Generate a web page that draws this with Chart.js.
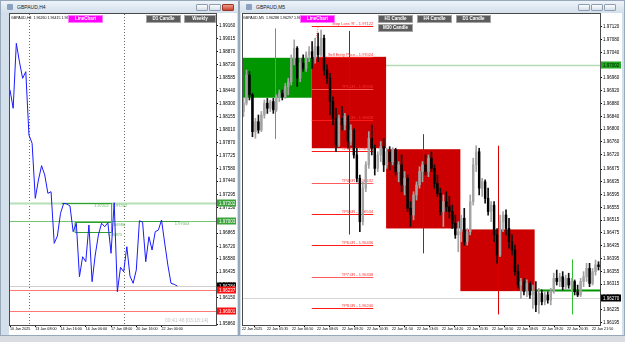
<!DOCTYPE html>
<html>
<head>
<meta charset="utf-8">
<title>GBPAUD H4 / M5</title>
<script src="https://cdn.jsdelivr.net/npm/chart.js@4.4.1/dist/chart.umd.min.js"></script>
<style>
  html, body { margin: 0; padding: 0; }
  body { width: 625px; height: 342px; position: relative; overflow: hidden;
         background: #d9dce1; font-family: "Liberation Sans", Arial, sans-serif; }
  .win { position: absolute; top: 0; height: 336px; box-sizing: border-box;
         background: #d4dfec; border: 1px solid #98a8bb; }
  .bar { position: absolute; left: 0; right: 0; top: 0; height: 12px;
         background: linear-gradient(#eef3f9, #d3dfec); }
  .bar span { position: absolute; left: 16px; top: 3px; font-size: 5px; color: #222; }
  .icon { position: absolute; left: 6px; top: 3px; width: 6px; height: 6px; background: #8aa2c0; border-radius: 1px; }
  .ctl { position: absolute; top: 3px; width: 12px; height: 7px; box-sizing: border-box;
         border: 1px solid #8e9db0; background: linear-gradient(#fbfcfe, #d6dfea); border-radius: 1px; }
  .ctl.x { background: linear-gradient(#f29a8a, #c9452f); border-color: #983727; }
  canvas { position: absolute; background: #fff; }
  .btn { position: absolute; height: 8px; font-size: 4.5px; font-weight: bold; line-height: 6px;
         text-align: center; color: #fff; box-sizing: border-box; background: #5d5d5d;
         border: 1px solid #a5a5a5; }
  .btn.lc { background: #ff00ff; border-color: #ff7aff; }
  .info { position: absolute; font-size: 3.6px; color: #000; white-space: nowrap; }
  .timer { position: absolute; font-size: 5px; color: #c4c4c4; white-space: nowrap; }
</style>
</head>
<body>

<div class="win" style="left:0;width:239px">
  <div class="bar"><div class="icon"></div><span>GBPAUD,H4</span>
    <div class="ctl" style="left:195px"></div><div class="ctl" style="left:208px"></div><div class="ctl x" style="left:221px"></div>
  </div>
</div>
<div class="win" style="left:239px;width:386px">
  <div class="bar"><div class="icon"></div><span>GBPAUD,M5</span>
    <div class="ctl" style="left:338px"></div><div class="ctl" style="left:351px"></div><div class="ctl" style="left:364px"></div>
  </div>
</div>

<canvas id="h4" width="228" height="322" style="left:9px;top:13px"></canvas>
<canvas id="m5" width="381" height="322" style="left:241px;top:13px"></canvas>

<div class="info" style="left:11px;top:16px">GBPAUD,H4&nbsp; 1.96260 1.96415 1.96260 1.96281</div>
<div class="btn lc" style="left:68px;top:15px;width:35px">LineChart</div>
<div class="btn" style="left:146px;top:15px;width:35px">D1 Candle</div>
<div class="btn" style="left:184px;top:15px;width:32px">Weekly</div>
<div class="timer" style="left:165px;top:317px">00:41:46 [03:18:14]</div>

<div class="info" style="left:243px;top:16px">GBPAUD,M5&nbsp; 1.96288 1.96297 1.96280 1.96281</div>
<div class="btn lc" style="left:300px;top:15px;width:35px">LineChart</div>
<div class="btn" style="left:378px;top:15px;width:35px">H1 Candle</div>
<div class="btn" style="left:417px;top:15px;width:35px">H4 Candle</div>
<div class="btn" style="left:456px;top:15px;width:35px">D1 Candle</div>
<div class="btn" style="left:378px;top:24px;width:35px">M30 Candle</div>

<script>
// ---------- GBPAUD,H4 : close prices, 10 Jan - 22 Jan 2025 ----------
const h4Close = [
  1.98449, 1.98246, 1.98965, 1.98759, 1.98578, 1.98651, 1.97951, 1.97859, 1.97251, 1.97453,
  1.97612, 1.97509, 1.97306, 1.97324, 1.96753, 1.96834, 1.97085, 1.97196, 1.97188, 1.97166,
  1.96882, 1.96975, 1.96384, 1.96605, 1.96550, 1.96956, 1.96329, 1.96624, 1.96845, 1.96975,
  1.96937, 1.96981, 1.96643, 1.97202, 1.96218, 1.96488, 1.96439, 1.96716, 1.96392, 1.96311,
  1.96458, 1.97003, 1.96986, 1.96550, 1.96826, 1.96679, 1.96882, 1.96900, 1.97011, 1.96757,
  1.96513, 1.96311, 1.96300, 1.96281
];
const h4TickIdx = [0, 8, 16, 24, 32, 40, 48];
const h4TickLabels = ['10 Jan 2025', '13 Jan 08:00', '14 Jan 16:00', '16 Jan 00:00',
                      '17 Jan 08:00', '20 Jan 16:00', '22 Jan 00:00'];
const h4WeekStarts = [6, 36];
const h4PriceTicks = [1.99160, 1.99015, 1.98870, 1.98730, 1.98585, 1.98440, 1.98300, 1.98155,
  1.98010, 1.97870, 1.97725, 1.97580, 1.97440, 1.97295, 1.97150, 1.97005, 1.96865, 1.96720,
  1.96580, 1.96435, 1.96290, 1.96150, 1.96005, 1.95860];
// horizontal levels: two green zones, bid, two red stops
const h4Levels = [1.97202, 1.97003, 1.96284, 1.96237, 1.96001];
// small green range objects drawn by the indicator
const h4RangeTop = [1.97202, 1.96986, 1.97003];
const h4RangeBottom = [1.97003, 1.96875, 1.97003];
const h4RangeFrom = [16.4, 20.6, 41.2];
const h4RangeTo = [32.2, 32.2, 53.8];

// ---------- GBPAUD,M5 : candles, 22 Jan 2025 ----------
const m5Open = [
  1.96855, 1.96881, 1.96969, 1.96907, 1.96792, 1.96823, 1.96797, 1.96844, 1.96881, 1.96865,
  1.96886, 1.96860, 1.96901, 1.96912, 1.96901, 1.96933, 1.96948, 1.97021, 1.97053, 1.96959,
  1.97006, 1.96990, 1.97032, 1.97042, 1.97021, 1.97058, 1.97032, 1.97084, 1.96985, 1.96959,
  1.96886, 1.96834, 1.96750, 1.96834, 1.96813, 1.96839, 1.96761, 1.96797, 1.96719, 1.96646,
  1.96510, 1.96615, 1.96688, 1.96771, 1.96740, 1.96677, 1.96719, 1.96745, 1.96688, 1.96729,
  1.96698, 1.96735, 1.96667, 1.96688, 1.96625, 1.96646, 1.96552, 1.96531, 1.96594, 1.96625,
  1.96667, 1.96688, 1.96667, 1.96709, 1.96677, 1.96630, 1.96599, 1.96542, 1.96573, 1.96557,
  1.96542, 1.96505, 1.96469, 1.96479, 1.96521, 1.96448, 1.96479, 1.96573, 1.96688, 1.96729,
  1.96615, 1.96635, 1.96583, 1.96542, 1.96562, 1.96469, 1.96406, 1.96510, 1.96531, 1.96489,
  1.96448, 1.96422, 1.96354, 1.96312, 1.96323, 1.96291, 1.96317, 1.96281, 1.96291, 1.96250,
  1.96286, 1.96260, 1.96281, 1.96265, 1.96291, 1.96333, 1.96323, 1.96338, 1.96307, 1.96333,
  1.96312, 1.96323, 1.96291, 1.96281, 1.96323, 1.96338, 1.96364, 1.96317, 1.96354, 1.96375
];
const m5High = [
  1.96896, 1.96985, 1.96980, 1.96912, 1.96834, 1.96844, 1.96855, 1.96891, 1.96896, 1.96891,
  1.96896, 1.96907, 1.96922, 1.96922, 1.96943, 1.96959, 1.97032, 1.97079, 1.97058, 1.97021,
  1.97032, 1.97042, 1.97058, 1.97074, 1.97084, 1.97100, 1.97110, 1.97094, 1.97001, 1.96974,
  1.96901, 1.96865, 1.96844, 1.96870, 1.96849, 1.96844, 1.96813, 1.96802, 1.96740, 1.96656,
  1.96635, 1.96698, 1.96792, 1.96813, 1.96750, 1.96729, 1.96761, 1.96771, 1.96740, 1.96745,
  1.96742, 1.96740, 1.96698, 1.96719, 1.96667, 1.96656, 1.96573, 1.96604, 1.96635, 1.96682,
  1.96698, 1.96719, 1.96719, 1.96729, 1.96688, 1.96656, 1.96615, 1.96594, 1.96604, 1.96589,
  1.96562, 1.96531, 1.96510, 1.96531, 1.96552, 1.96489, 1.96594, 1.96709, 1.96748, 1.96740,
  1.96646, 1.96641, 1.96615, 1.96573, 1.96573, 1.96489, 1.96531, 1.96542, 1.96547, 1.96521,
  1.96469, 1.96437, 1.96375, 1.96333, 1.96333, 1.96328, 1.96323, 1.96312, 1.96323, 1.96302,
  1.96297, 1.96291, 1.96291, 1.96302, 1.96349, 1.96359, 1.96349, 1.96354, 1.96343, 1.96349,
  1.96333, 1.96328, 1.96312, 1.96333, 1.96354, 1.96380, 1.96380, 1.96364, 1.96390, 1.96385
];
const m5Low = [
  1.96839, 1.96875, 1.96891, 1.96776, 1.96771, 1.96787, 1.96792, 1.96834, 1.96849, 1.96855,
  1.96849, 1.96855, 1.96886, 1.96891, 1.96896, 1.96907, 1.96938, 1.97001, 1.96933, 1.96948,
  1.96980, 1.96980, 1.97011, 1.96990, 1.97006, 1.97011, 1.97027, 1.96969, 1.96943, 1.96844,
  1.96813, 1.96729, 1.96745, 1.96797, 1.96797, 1.96740, 1.96750, 1.96709, 1.96635, 1.96479,
  1.96500, 1.96604, 1.96677, 1.96719, 1.96656, 1.96667, 1.96698, 1.96667, 1.96677, 1.96672,
  1.96688, 1.96656, 1.96635, 1.96604, 1.96594, 1.96542, 1.96495, 1.96516, 1.96578, 1.96615,
  1.96635, 1.96656, 1.96651, 1.96667, 1.96615, 1.96589, 1.96531, 1.96495, 1.96542, 1.96521,
  1.96489, 1.96458, 1.96416, 1.96448, 1.96437, 1.96437, 1.96469, 1.96562, 1.96667, 1.96594,
  1.96589, 1.96568, 1.96531, 1.96510, 1.96448, 1.96380, 1.96401, 1.96479, 1.96469, 1.96427,
  1.96406, 1.96343, 1.96302, 1.96270, 1.96281, 1.96276, 1.96270, 1.96239, 1.96229, 1.96223,
  1.96250, 1.96250, 1.96255, 1.96250, 1.96286, 1.96312, 1.96307, 1.96297, 1.96297, 1.96302,
  1.96291, 1.96281, 1.96276, 1.96276, 1.96307, 1.96323, 1.96307, 1.96312, 1.96343, 1.96359
];
const m5Close = [
  1.96881, 1.96969, 1.96907, 1.96792, 1.96823, 1.96797, 1.96844, 1.96881, 1.96865, 1.96886,
  1.96860, 1.96901, 1.96912, 1.96901, 1.96933, 1.96948, 1.97021, 1.97053, 1.96959, 1.97006,
  1.96990, 1.97032, 1.97042, 1.97021, 1.97058, 1.97032, 1.97084, 1.96985, 1.96959, 1.96886,
  1.96834, 1.96750, 1.96834, 1.96813, 1.96839, 1.96761, 1.96797, 1.96719, 1.96646, 1.96510,
  1.96615, 1.96688, 1.96771, 1.96740, 1.96677, 1.96719, 1.96745, 1.96688, 1.96729, 1.96698,
  1.96735, 1.96667, 1.96688, 1.96625, 1.96646, 1.96552, 1.96531, 1.96594, 1.96625, 1.96667,
  1.96688, 1.96667, 1.96709, 1.96677, 1.96630, 1.96599, 1.96542, 1.96573, 1.96557, 1.96542,
  1.96505, 1.96469, 1.96479, 1.96521, 1.96448, 1.96479, 1.96573, 1.96688, 1.96729, 1.96615,
  1.96635, 1.96583, 1.96542, 1.96562, 1.96469, 1.96406, 1.96510, 1.96531, 1.96489, 1.96448,
  1.96422, 1.96354, 1.96312, 1.96323, 1.96291, 1.96317, 1.96281, 1.96291, 1.96250, 1.96286,
  1.96260, 1.96281, 1.96265, 1.96291, 1.96333, 1.96323, 1.96338, 1.96307, 1.96333, 1.96312,
  1.96323, 1.96291, 1.96281, 1.96323, 1.96338, 1.96364, 1.96317, 1.96354, 1.96375, 1.96370
];
const m5TimeLabels = ['22 Jan 2025', '22 Jan 05:35', '22 Jan 06:50', '22 Jan 08:05', '22 Jan 09:20',
  '22 Jan 10:35', '22 Jan 11:50', '22 Jan 13:05', '22 Jan 14:20', '22 Jan 15:35', '22 Jan 16:50',
  '22 Jan 18:05', '22 Jan 19:20', '22 Jan 20:35', '22 Jan 21:50'];
const m5PriceTicks = [1.97120, 1.97080, 1.97040, 1.97000, 1.96960, 1.96920, 1.96880, 1.96840,
  1.96800, 1.96760, 1.96720, 1.96675, 1.96635, 1.96595, 1.96555, 1.96515, 1.96475, 1.96435,
  1.96395, 1.96355, 1.96315, 1.96275, 1.96235, 1.96195];
// higher timeframe candles laid over the M5 bars (start = first M5 bar they cover)
const htfStart = [-2.0, 22.9, 47.8, 72.7, 97.6];
const htfOpen  = [1.96898, 1.97026, 1.96737, 1.96486, 1.96292];
const htfHigh  = [1.97115, 1.97107, 1.96784, 1.96748, 1.96392];
const htfLow   = [1.96769, 1.96470, 1.96411, 1.96220, 1.96220];
const htfClose = [1.97023, 1.96740, 1.96489, 1.96293, 1.96298];
// sell trade: stop, entry and R-multiple targets
const tradeNames = ["Stop Loss 'R' - 1.97122", 'Sell Entry Price - 1.97024', 'TP1.0R - 1.96926',
  'TP2.0R - 1.96828', 'TP3.0R - 1.96730', 'TP4.0R - 1.96632', 'TP5.0R - 1.96534',
  'TP6.0R - 1.96436', 'TP7.0R - 1.96338', 'TP8.0R - 1.96240'];
const tradeLevels = [1.97122, 1.97024, 1.96926, 1.96828, 1.96730, 1.96632, 1.96534, 1.96436, 1.96338, 1.96240];
const tradeFrom = 22.9, tradeTo = 43.5;
const m5Levels = [1.97002, 1.96270]; // green level, bid

const FAMILY = '"Liberation Sans", Arial, sans-serif';
const FONT = '4.5px ' + FAMILY;
const tickFont = { size: 4.5, family: FAMILY };
const timeFont = { size: 3.7, family: FAMILY };

function hline(ctx, a, y, color, width, dash) {
  ctx.strokeStyle = color; ctx.lineWidth = width; ctx.setLineDash(dash || []);
  ctx.beginPath(); ctx.moveTo(a.left, y); ctx.lineTo(a.right, y); ctx.stroke();
  ctx.setLineDash([]);
}
function tag(ctx, scale, price, bg, fg) {
  const yy = Math.round(scale.getPixelForValue(price));
  ctx.fillStyle = bg;
  ctx.fillRect(scale.left + 1, yy - 3.5, scale.width - 2, 7);
  ctx.fillStyle = fg; ctx.font = FONT; ctx.textAlign = 'left'; ctx.textBaseline = 'middle';
  ctx.fillText(price.toFixed(5), scale.left + 3, yy + 0.5);
}
function frame(ctx, a) {
  ctx.strokeStyle = '#4a4a4a'; ctx.lineWidth = 1;
  ctx.strokeRect(a.left + 0.5, a.top - 0.5, a.right - a.left, a.bottom - a.top + 1);
}
function axisX(min, max, ticks, labels) {
  return {
    type: 'linear', min: min, max: max, offset: false,
    grid: { drawOnChartArea: false, tickLength: 2, color: '#000' },
    border: { display: false },
    ticks: { font: timeFont, color: '#000', padding: 0, maxRotation: 0, autoSkip: false,
             align: 'start', callback: (v, i) => labels[i] },
    afterBuildTicks: s => { s.ticks = ticks.map(v => ({ value: v })); },
    afterFit: s => { s.height = 10; s.paddingLeft = 0; s.paddingRight = 0; }
  };
}
function axisY(min, max, ticks, width) {
  return {
    position: 'right', min: min, max: max,
    grid: { drawOnChartArea: false, tickLength: 2, color: '#000' },
    border: { display: false },
    ticks: { font: tickFont, color: '#000', padding: 1, callback: v => v.toFixed(5) },
    afterBuildTicks: s => { s.ticks = ticks.map(v => ({ value: v })); },
    afterFit: s => { s.width = width; s.paddingTop = 0; s.paddingBottom = 0; }
  };
}

// ---------- left window: H4 line chart ----------
const h4Deco = {
  id: 'h4Deco',
  beforeDatasetsDraw(chart) {
    const { ctx, chartArea: a, scales: { x, y } } = chart;
    ctx.save();
    ctx.beginPath(); ctx.rect(a.left, a.top, a.width, a.height); ctx.clip();
    // week separators
    h4WeekStarts.forEach(i => {
      const px = Math.round(x.getPixelForValue(i)) + 0.5;
      ctx.strokeStyle = '#6c6c6c'; ctx.lineWidth = 1; ctx.setLineDash([1, 2]);
      ctx.beginPath(); ctx.moveTo(px, a.top); ctx.lineTo(px, a.bottom); ctx.stroke();
    });
    ctx.setLineDash([]);
    const styles = [['#b6e0b6', 2], ['#74c474', 1], ['#cfcfcf', 1], ['#ff7878', 1], ['#ff7878', 1]];
    h4Levels.forEach((p, k) => hline(ctx, a, Math.round(y.getPixelForValue(p)) + 0.5, styles[k][0], styles[k][1]));
    // green range objects
    ctx.strokeStyle = '#2f9f2f'; ctx.lineWidth = 1;
    h4RangeTop.forEach((top, k) => {
      const x0 = x.getPixelForValue(h4RangeFrom[k]), x1 = x.getPixelForValue(h4RangeTo[k]);
      const y0 = Math.round(y.getPixelForValue(top)) + 0.5, y1 = Math.round(y.getPixelForValue(h4RangeBottom[k])) + 0.5;
      ctx.beginPath();
      if (y0 === y1) { ctx.moveTo(x0, y0); ctx.lineTo(x1, y0); }
      else if (k === 0) { ctx.moveTo(x0, y0); ctx.lineTo(x1, y0); ctx.lineTo(x1, y1); }
      else { ctx.rect(x0, y0, x1 - x0, y1 - y0); }
      ctx.stroke();
    });
    ctx.fillStyle = '#5fb85f'; ctx.font = '4px ' + FAMILY; ctx.textBaseline = 'top';
    const px = v => x.getPixelForValue(v), py = v => y.getPixelForValue(v);
    ctx.textAlign = 'right'; ctx.fillText(h4RangeTop[0].toFixed(5), px(h4RangeTo[0]) - 3, py(h4RangeTop[0]) + 1);
    ctx.textAlign = 'left';
    ctx.fillText(h4RangeTop[0].toFixed(5), px(h4RangeTo[0]) + 1, py(h4RangeTop[0]) + 1);
    ctx.fillText(h4RangeTop[1].toFixed(5), px(h4RangeTo[1]) - 1, py(h4RangeTop[1]) + 1);
    ctx.fillText(h4RangeBottom[1].toFixed(5), px(h4RangeTo[1]) - 4, py(h4RangeBottom[1]) + 1);
    ctx.fillText(h4RangeTop[2].toFixed(5), px(h4RangeTo[2]) - 5, py(h4RangeTop[2]) + 1);
    ctx.restore();
  },
  afterDraw(chart) {
    const { ctx, chartArea: a, scales: { y } } = chart;
    ctx.save();
    frame(ctx, a);
    tag(ctx, y, h4Levels[0], '#3aa63a', '#ffffff');
    tag(ctx, y, h4Levels[1], '#3aa63a', '#ffffff');
    tag(ctx, y, h4Levels[2], '#000000', '#ffffff');
    tag(ctx, y, h4Levels[3], '#ff1010', '#ffffff');
    tag(ctx, y, h4Levels[4], '#ff1010', '#ffffff');
    ctx.restore();
  }
};

new Chart(document.getElementById('h4'), {
  type: 'line',
  data: { datasets: [{ data: h4Close.map((v, i) => ({ x: i, y: v })), borderColor: '#1a1aff',
                       borderWidth: 1, pointRadius: 0, tension: 0 }] },
  options: {
    responsive: false, animation: false, events: [],
    layout: { padding: { top: 1, left: 0, right: 0, bottom: 0 } },
    plugins: { legend: { display: false }, tooltip: { enabled: false } },
    scales: {
      x: axisX(-0.32, 65.25, h4TickIdx, h4TickLabels),
      y: axisY(1.95850, 1.99289, h4PriceTicks, 21)
    }
  },
  plugins: [h4Deco]
});

// ---------- right window: M5 candles with trade overlay ----------
const m5Deco = {
  id: 'm5Deco',
  beforeDatasetsDraw(chart) {
    const { ctx, chartArea: a, scales: { x, y } } = chart;
    const px = v => x.getPixelForValue(v), py = v => y.getPixelForValue(v);
    ctx.save();
    ctx.beginPath(); ctx.rect(a.left, a.top, a.width, a.height); ctx.clip();
    hline(ctx, a, Math.round(py(m5Levels[0])) + 0.5, '#b3dcb3', 1.5);
    hline(ctx, a, Math.round(py(m5Levels[1])) + 0.5, '#d4d4d4', 1);
    // higher timeframe candles
    const w = htfStart[2] - htfStart[1];
    htfOpen.forEach((o, k) => {
      const c = htfClose[k], up = c >= o;
      const x0 = px(htfStart[k]), x1 = px(htfStart[k] + w);
      const top = py(Math.max(o, c)), bot = py(Math.min(o, c));
      ctx.fillStyle = up ? '#009600' : '#cc0000';
      if (bot - top < 3) ctx.fillRect(x0, (top + bot) / 2 - 1, x1 - x0, 2);
      else ctx.fillRect(x0, top, x1 - x0, bot - top);
      const xm = Math.round(px(htfStart[k] + w / 2)) + 0.5;
      ctx.strokeStyle = up ? '#2fc02f' : '#dd0000'; ctx.lineWidth = 1;
      ctx.beginPath(); ctx.moveTo(xm, py(htfHigh[k])); ctx.lineTo(xm, py(htfLow[k])); ctx.stroke();
    });
    // trade levels
    const tx0 = px(tradeFrom), tx1 = px(tradeTo);
    tradeLevels.forEach((p, k) => {
      const yy = Math.round(py(p)) + 0.5;
      ctx.strokeStyle = k % 3 === 2 ? '#ff5a5a' : '#ff1a1a'; ctx.lineWidth = 1;
      ctx.beginPath(); ctx.moveTo(tx0, yy); ctx.lineTo(tx1, yy); ctx.stroke();
      ctx.fillStyle = '#ff3030'; ctx.font = '4px ' + FAMILY;
      ctx.textAlign = 'right'; ctx.textBaseline = 'bottom';
      ctx.fillText(tradeNames[k], tx1, yy - 0.5);
    });
    ctx.strokeStyle = '#ff8080'; ctx.setLineDash([1, 1]);
    ctx.beginPath(); ctx.moveTo(px(tradeFrom), py(tradeLevels[1])); ctx.lineTo(px(tradeFrom + 2.2), py(tradeLevels[0])); ctx.stroke();
    ctx.setLineDash([]);
    ctx.restore();
  },
  afterDraw(chart) {
    const { ctx, chartArea: a, scales: { y } } = chart;
    ctx.save();
    frame(ctx, a);
    tag(ctx, y, m5Levels[0], '#23a823', '#002200');
    tag(ctx, y, m5Levels[1], '#000000', '#ffffff');
    ctx.restore();
  }
};

const bars = m5Close.map((c, i) => i);
const isUp = m5Close.map((c, i) => c >= m5Open[i]);
const labelEvery = 8.38; // M5 bars between time labels
new Chart(document.getElementById('m5'), {
  type: 'bar',
  data: {
    datasets: [
      { data: bars.map(i => ({ x: i, y: [m5Open[i], m5Close[i]] })),
        backgroundColor: isUp.map(u => u ? '#a3a3a3' : '#000000'),
        barThickness: 1.8, minBarLength: 1, grouped: false, order: 1 },
      { data: bars.map(i => ({ x: i, y: [m5Low[i], m5High[i]] })),
        backgroundColor: isUp.map(u => u ? '#a3a3a3' : '#111111'),
        barThickness: 1, grouped: false, order: 2 }
    ]
  },
  options: {
    responsive: false, animation: false, events: [],
    layout: { padding: { top: 1, left: 1, right: 0, bottom: 0 } },
    plugins: { legend: { display: false }, tooltip: { enabled: false } },
    scales: {
      x: axisX(-0.5, 119.5, m5TimeLabels.map((t, k) => -0.5 + k * labelEvery), m5TimeLabels),
      y: axisY(1.96187, 1.97160, m5PriceTicks, 22)
    }
  },
  plugins: [m5Deco]
});
</script>
</body>
</html>
